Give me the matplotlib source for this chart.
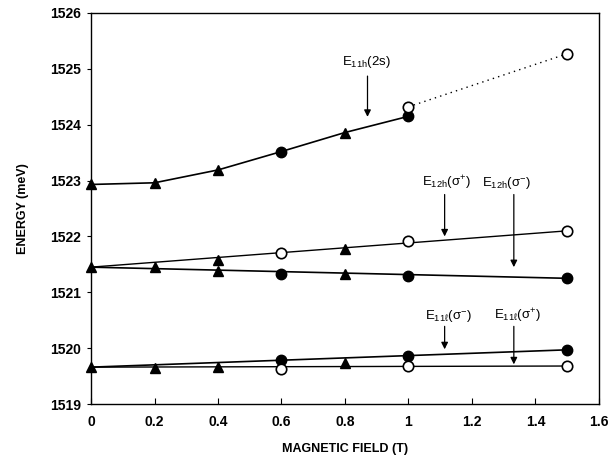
import matplotlib
matplotlib.use('Agg')
import matplotlib.pyplot as plt

plt.rcParams['font.family'] = ['Liberation Sans', 'DejaVu Sans']
plt.rcParams['mathtext.fontset'] = 'custom'
plt.rcParams['mathtext.rm'] = 'Liberation Sans'
plt.rcParams['mathtext.it'] = 'Liberation Sans:italic'
plt.rcParams['mathtext.default'] = 'regular'

# E11h(2s): solid line through measured points, dotted to open circles
b_2s = [0.0, 0.2, 0.4, 0.6, 0.8, 1.0]
e_2s = [1522.93, 1522.96, 1523.19, 1523.52, 1523.86, 1524.15]
tri_2s = [True, True, True, False, True, False]
b_2s_open = [1.0, 1.5]
e_2s_open = [1524.32, 1525.27]

# E12h: shared triangles at low field, then split sigma+ / sigma-
b_12_tri = [0.0, 0.2, 0.4, 0.8, 0.4, 0.8]
e_12_tri = [1521.45, 1521.46, 1521.58, 1521.77, 1521.38, 1521.32]
b_12_plus = [0.6, 1.0, 1.5]
e_12_plus = [1521.71, 1521.92, 1522.10]
b_12_minus = [0.6, 1.0, 1.5]
e_12_minus = [1521.32, 1521.30, 1521.25]
fit_b = [0.0, 1.5]
fit_12_plus = [1521.45, 1522.10]
fit_12_minus = [1521.45, 1521.25]

# E11l
b_11l_tri = [0.0, 0.2, 0.4, 0.8]
e_11l_tri = [1519.66, 1519.65, 1519.67, 1519.73]
b_11l_minus = [0.6, 1.0, 1.5]
e_11l_minus = [1519.79, 1519.86, 1519.97]
b_11l_plus = [0.6, 1.0, 1.5]
e_11l_plus = [1519.62, 1519.68, 1519.68]
fit_11l_minus = [1519.66, 1519.97]
fit_11l_plus = [1519.66, 1519.68]

# labels: (text, text x, text y, arrow x, arrow start y, arrow tip y)
labels = [
    ('E$_{11h}$(2s)', 0.867, 1525.12, 0.871, 1524.87, 1524.14),
    ('E$_{12h}$($\\sigma^{+}$)', 1.12, 1522.96, 1.114, 1522.75, 1522.0),
    ('E$_{12h}$($\\sigma^{-}$)', 1.31, 1522.96, 1.332, 1522.75, 1521.45),
    ('E$_{11\\ell}$($\\sigma^{-}$)', 1.127, 1520.57, 1.114, 1520.39, 1519.98),
    ('E$_{11\\ell}$($\\sigma^{+}$)', 1.344, 1520.57, 1.332, 1520.39, 1519.71),
]

fig = plt.figure(figsize=(6.13, 4.63), dpi=100)
ax = fig.add_axes([0.1485, 0.1274, 0.8285, 0.8446])

ms = 7.5
kw = dict(color='black', clip_on=False, zorder=3)
open_kw = dict(mfc='white', mec='black', mew=1.2, clip_on=False, zorder=3)

ax.plot(b_2s, e_2s, color='black', lw=1.2)
for b, e, t in zip(b_2s, e_2s, tri_2s):
    ax.plot(b, e, '^' if t else 'o', ms=ms, **kw)
ax.plot(b_2s_open, e_2s_open, color='black', lw=1, ls=(0, (1, 3)))
ax.plot(b_2s_open, e_2s_open, 'o', ms=ms, **open_kw)

ax.plot(fit_b, fit_12_plus, color='black', lw=1)
ax.plot(fit_b, fit_12_minus, color='black', lw=1.2)
ax.plot(b_12_tri, e_12_tri, '^', ms=ms, **kw)
ax.plot(b_12_plus, e_12_plus, 'o', ms=ms, **open_kw)
ax.plot(b_12_minus, e_12_minus, 'o', ms=ms, **kw)

ax.plot(fit_b, fit_11l_minus, color='black', lw=1.2)
ax.plot(fit_b, fit_11l_plus, color='black', lw=1)
ax.plot(b_11l_tri, e_11l_tri, '^', ms=ms, **kw)
ax.plot(b_11l_minus, e_11l_minus, 'o', ms=ms, **kw)
ax.plot(b_11l_plus, e_11l_plus, 'o', ms=ms, **open_kw)

for txt, tx, ty, axx, ay0, ay1 in labels:
    ax.text(tx, ty, txt, ha='center', va='center', fontsize=9.5)
    ax.annotate('', xy=(axx, ay1), xytext=(axx, ay0),
                arrowprops=dict(arrowstyle='-|>', color='black', lw=0.9,
                                mutation_scale=10, shrinkA=0, shrinkB=0))

ax.set_xlim(0, 1.6)
ax.set_ylim(1519, 1526)
ax.set_xticks([0, 0.2, 0.4, 0.6, 0.8, 1.0, 1.2, 1.4, 1.6])
ax.set_xticklabels(['0', '0.2', '0.4', '0.6', '0.8', '1', '1.2', '1.4', '1.6'])
ax.set_yticks(range(1519, 1527))
ax.tick_params(axis='x', direction='in', length=4, width=0.8, pad=8)
ax.tick_params(axis='y', direction='out', length=3, width=0.8, pad=4)
for lab in ax.get_xticklabels() + ax.get_yticklabels():
    lab.set_fontweight('bold')
    lab.set_fontsize(10)
for sp in ax.spines.values():
    sp.set_linewidth(1)

ax.set_xlabel('MAGNETIC FIELD (T)', fontsize=9, fontweight='bold', labelpad=10)
ax.set_ylabel('ENERGY (meV)', fontsize=9, fontweight='bold', labelpad=15)

fig.savefig('out.png', dpi=100)
